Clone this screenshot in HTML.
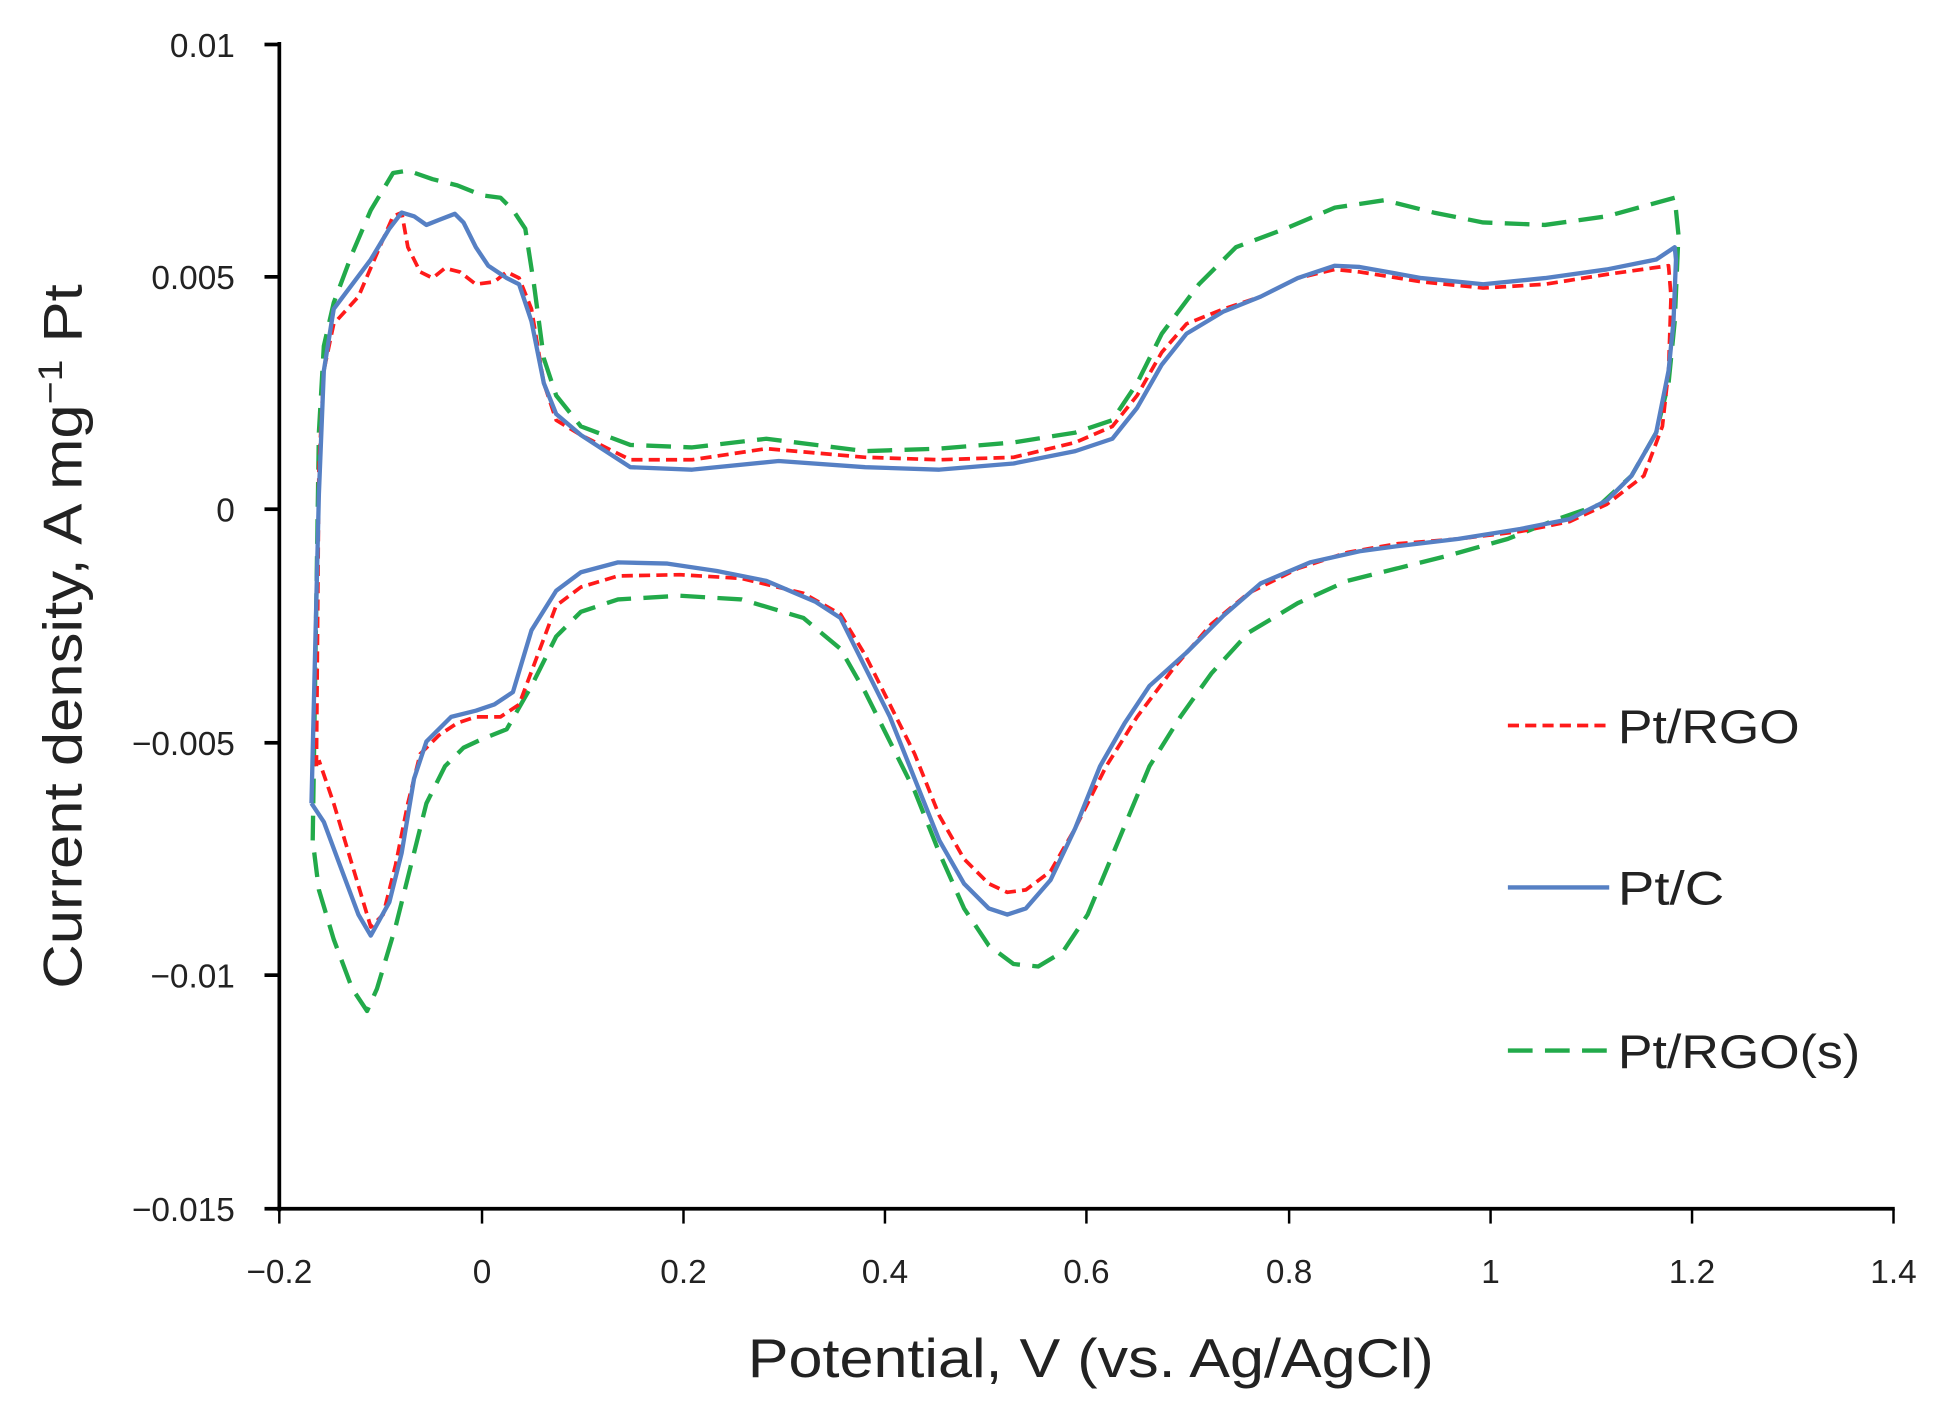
<!DOCTYPE html>
<html><head><meta charset="utf-8"><style>
html,body{margin:0;padding:0;background:#fff;}
svg{display:block;}
text{font-family:"Liberation Sans",sans-serif;fill:#222;}
</style></head><body>
<svg width="1938" height="1406" viewBox="0 0 1568 1137.6" preserveAspectRatio="none">
<g stroke="#000" stroke-width="3" fill="none">
<line x1="226" y1="34" x2="226" y2="980"/>
<line x1="224" y1="978" x2="1533" y2="978"/>
<line x1="214" y1="36" x2="226" y2="36"/>
<line x1="214" y1="224" x2="226" y2="224"/>
<line x1="214" y1="412" x2="226" y2="412"/>
<line x1="214" y1="601" x2="226" y2="601"/>
<line x1="214" y1="789" x2="226" y2="789"/>
<line x1="214" y1="978" x2="226" y2="978"/>
<g stroke-width="2">
<line x1="226" y1="978" x2="226" y2="990"/><line x1="390" y1="978" x2="390" y2="990"/>
<line x1="553" y1="978" x2="553" y2="990"/><line x1="716" y1="978" x2="716" y2="990"/>
<line x1="879" y1="978" x2="879" y2="990"/><line x1="1043" y1="978" x2="1043" y2="990"/>
<line x1="1206" y1="978" x2="1206" y2="990"/><line x1="1369" y1="978" x2="1369" y2="990"/>
<line x1="1532" y1="978" x2="1532" y2="990"/></g>
</g>
<g font-size="27" text-anchor="end">
<text x="190" y="46">0.01</text><text x="190" y="234">0.005</text><text x="190" y="422">0</text>
<text x="190" y="611">−0.005</text><text x="190" y="799">−0.01</text><text x="190" y="988">−0.015</text>
</g>
<g font-size="27" text-anchor="middle">
<text x="226" y="1038">−0.2</text><text x="390" y="1038">0</text><text x="553" y="1038">0.2</text>
<text x="716" y="1038">0.4</text><text x="879" y="1038">0.6</text><text x="1043" y="1038">0.8</text>
<text x="1206" y="1038">1</text><text x="1369" y="1038">1.2</text><text x="1532" y="1038">1.4</text>
</g>
<text x="605" y="1114" font-size="44" textLength="555" lengthAdjust="spacingAndGlyphs">Potential, V (vs. Ag/AgCl)</text>
<text transform="translate(66,800) rotate(-90)" font-size="44" textLength="570" lengthAdjust="spacingAndGlyphs">Current density, A mg<tspan font-size="28" dy="-16">−1</tspan><tspan dy="16"> Pt</tspan></text>

<g fill="none" stroke-linejoin="round" stroke-linecap="butt">
<polyline stroke="#22AA4A" stroke-width="3.5" stroke-dasharray="20 10" points="253,680 258,350 262,280 270,245 285,205 300,170 318,140 330,138 350,145 370,150 390,158 405,160 415,170 425,185 432,230 440,290 450,320 470,345 510,360 560,362 620,355 700,365 760,363 820,358 870,350 900,340 920,310 940,270 970,230 1000,200 1040,185 1080,168 1120,162 1160,172 1200,180 1250,182 1300,175 1355,160 1358,190 1355,260 1350,310 1340,350 1320,385 1295,408 1260,420 1220,436 1170,450 1130,460 1090,470 1050,488 1010,512 980,545 955,580 930,620 905,680 880,740 860,770 840,782 820,780 800,765 780,735 760,690 740,640 720,600 700,560 680,525 650,500 600,485 550,482 500,485 470,495 450,515 430,555 410,590 390,598 375,605 360,620 345,650 335,690 320,750 305,800 297,818 285,800 270,760 258,720 253,680"/>
<polyline stroke="#FF1A1A" stroke-width="3" stroke-dasharray="9 5" points="256,620 258,380 262,300 270,262 290,240 305,205 318,175 325,172 330,200 340,220 350,225 360,217 372,220 385,230 400,228 410,220 420,225 430,250 440,310 450,340 470,352 510,372 560,372 620,363 700,370 760,372 820,370 870,358 900,345 920,320 940,285 960,262 990,250 1020,240 1050,225 1080,218 1100,220 1150,228 1200,233 1250,230 1300,222 1350,215 1352,240 1350,300 1345,345 1330,385 1300,408 1270,422 1230,430 1180,436 1130,440 1090,447 1050,460 1010,480 980,505 950,540 920,580 895,620 870,670 850,705 830,720 815,722 800,715 780,695 760,660 740,610 720,570 700,530 680,497 650,480 600,468 550,465 500,466 470,475 450,490 435,530 420,570 405,580 385,580 370,585 355,595 340,610 330,650 320,700 310,740 300,750 285,700 270,650 258,615"/>
<polyline stroke="#5680C4" stroke-width="3.5" points="252,650 258,400 262,300 270,250 285,230 300,210 315,185 325,172 335,175 345,182 355,178 368,173 375,180 385,200 395,215 410,225 420,230 430,260 440,310 450,335 470,352 510,378 560,380 630,373 700,378 760,380 820,375 870,365 900,355 920,330 940,295 960,270 990,252 1020,240 1050,225 1080,215 1100,216 1150,225 1200,230 1250,225 1300,218 1340,210 1355,200 1356,210 1354,260 1350,300 1340,350 1320,385 1300,405 1270,420 1230,428 1180,436 1130,442 1100,446 1060,455 1020,472 990,498 960,528 930,555 910,585 890,620 870,670 850,712 830,735 815,740 800,735 780,715 760,680 740,630 720,580 700,540 680,500 660,487 620,470 580,462 540,456 500,455 470,463 450,478 430,510 415,560 400,570 385,575 365,580 345,600 335,630 325,690 315,730 300,757 290,740 275,700 262,665 252,650"/>
<line x1="1220" y1="587" x2="1302" y2="587" stroke="#FF1A1A" stroke-width="3" stroke-dasharray="9 5"/>
<line x1="1220" y1="718" x2="1302" y2="718" stroke="#5680C4" stroke-width="3.5"/>
<line x1="1220" y1="850" x2="1302" y2="850" stroke="#22AA4A" stroke-width="3.5" stroke-dasharray="20 10"/>
</g>
<g font-size="38">
<text x="1309" y="601" textLength="147" lengthAdjust="spacingAndGlyphs">Pt/RGO</text>
<text x="1309" y="732" textLength="86" lengthAdjust="spacingAndGlyphs">Pt/C</text>
<text x="1309" y="864" textLength="196" lengthAdjust="spacingAndGlyphs">Pt/RGO(s)</text>
</g>
</svg>
</body></html>
